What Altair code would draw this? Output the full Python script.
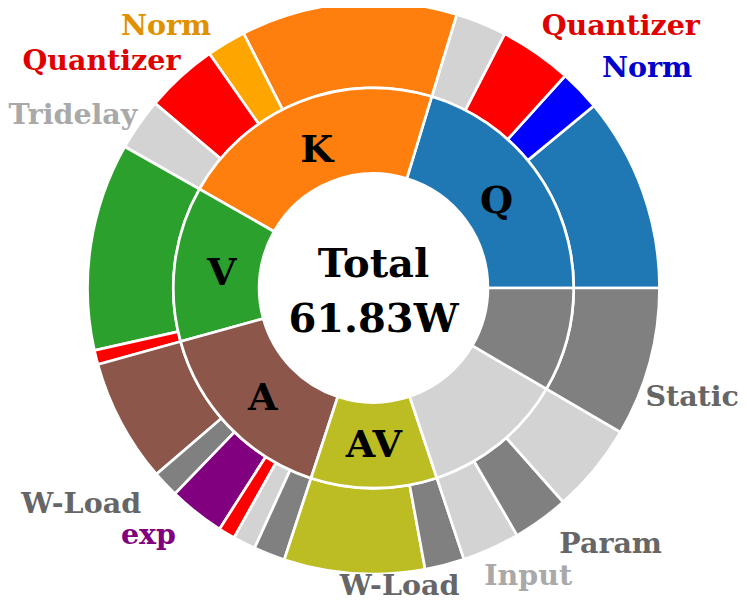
import math
import altair as alt
import pandas as pd

# ---------------- data (power in W) ----------------
TOTAL_LABEL = "61.83W"

INNER_NAMES = ["Q", "K", "V", "A", "AV", "Other", "Static"]
INNER_W = [12.55, 13.28, 7.75, 9.67, 6.29, 7.09, 5.20]
INNER_LABELS = ["Q", "K", "V", "A", "AV", "", ""]

OUTER_PARENT = ["Q", "Q", "Q", "Q",
                "K", "K", "K", "K",
                "V", "V",
                "A", "A", "A", "A", "A", "A",
                "AV", "AV",
                "Other", "Other", "Other",
                "Static"]
OUTER_PART = ["Q", "Norm-Q", "Quantizer", "Tridelay",
              "K", "Norm-K", "Quantizer", "Tridelay",
              "V", "Quantizer",
              "A", "W-Load", "exp", "Quantizer", "Input", "Param",
              "AV", "W-Load",
              "Input", "Param", "Other",
              "Static"]
OUTER_W = [6.80, 1.43, 2.54, 1.78,
           7.55, 1.37, 2.54, 1.82,
           7.25, 0.50,
           4.31, 0.93, 1.96, 0.58, 0.79, 1.10,
           4.91, 1.38,
           2.01, 1.96, 3.12,
           5.20]

# outer annotation texts
ANN_TEXT = ["Quantizer", "Norm", "Norm", "Quantizer", "Tridelay",
            "W-Load", "exp", "W-Load", "Input", "Param", "Static"]
ANN_KIND = ["Quantizer", "Norm-Q", "Norm-K", "Quantizer", "Tridelay",
            "W-Load", "exp", "W-Load", "Input", "Param", "Static"]

# ---------------- style / layout ----------------
PALETTE = {
    "Q": "#1f77b4", "K": "#ff7f0e", "V": "#2ca02c", "A": "#8c564b", "AV": "#bcbd22",
    "Other": "#d3d3d3", "Static": "#808080",
    "Norm-Q": "#0000ff", "Norm-K": "#ffa500", "Quantizer": "#ff0000",
    "Tridelay": "#d3d3d3", "W-Load": "#808080", "exp": "#800080",
    "Input": "#d3d3d3", "Param": "#808080",
}
TEXT_PALETTE = {
    "Quantizer": "#e00000", "Norm-Q": "#0000cc", "Norm-K": "#e09100",
    "Tridelay": "#a9a9a9", "Input": "#a9a9a9", "W-Load": "#666666",
    "Param": "#666666", "Static": "#666666", "exp": "#800080",
}
# annotation placement: angle (deg, counter-clockwise from 3 o'clock), radius (fraction of R)
ANN_ANGLE = [45.65, 37.65, 129.36, 141.3, 151.4, 217.6, 228.7, 274.84, 297.5, 311.8, 339.7]
ANN_RFRAC = [1.237, 1.208, 1.144, 1.219, 1.197, 1.29, 1.192, 1.077, 1.171, 1.244, 1.188]

R = 286
R_MID = 0.7 * R
R_HOLE = 0.4 * R
FONT = "DejaVu Serif"
EDGE = 2.7

total = sum(INNER_W)
theta_scale = alt.Scale(domain=[0, total], range=[math.pi / 2, math.pi / 2 - 2 * math.pi],
                        nice=False, zero=True)

inner = pd.DataFrame({"name": INNER_NAMES, "w": INNER_W, "label": INNER_LABELS})
inner["idx"] = range(len(inner))
inner["fill"] = inner["name"].map(PALETTE)

outer = pd.DataFrame({"parent": OUTER_PARENT, "part": OUTER_PART, "w": OUTER_W})
outer["idx"] = range(len(outer))
outer["fill"] = outer["part"].map(PALETTE)

ann = pd.DataFrame({"text": ANN_TEXT, "kind": ANN_KIND})
ann["pos"] = [a / 360.0 * total for a in ANN_ANGLE]
ann["r"] = [f * R for f in ANN_RFRAC]
ann["tcolor"] = ann["kind"].map(TEXT_PALETTE)

center = pd.DataFrame({"pos": [0.0]})

theta_stack = alt.Theta("w:Q", stack=True, scale=theta_scale)

inner_arc = alt.Chart(inner).mark_arc(
    innerRadius=R_HOLE, outerRadius=R_MID, stroke="white", strokeWidth=EDGE
).encode(theta=theta_stack, order=alt.Order("idx:Q"), color=alt.Color("fill:N", scale=None))

outer_arc = alt.Chart(outer).mark_arc(
    innerRadius=R_MID, outerRadius=R, stroke="white", strokeWidth=EDGE
).encode(theta=theta_stack, order=alt.Order("idx:Q"), color=alt.Color("fill:N", scale=None))

inner_text = alt.Chart(inner).mark_text(
    radius=153, dy=5, font=FONT, fontSize=38, fontWeight="bold", color="black",
    align="center", baseline="middle"
).encode(theta=theta_stack, order=alt.Order("idx:Q"), text="label:N")

ann_text = alt.Chart(ann).mark_text(
    font=FONT, fontSize=28.5, fontWeight="bold", align="center", baseline="alphabetic"
).encode(
    theta=alt.Theta("pos:Q", stack=False, scale=theta_scale),
    radius=alt.Radius("r:Q", scale=None),
    text="text:N",
    color=alt.Color("tcolor:N", scale=None),
)

total_1 = alt.Chart(center).mark_text(
    text="Total", font=FONT, fontSize=40, fontWeight="bold", color="black",
    align="center", baseline="alphabetic", dy=-11, radius=0
).encode(theta=alt.Theta("pos:Q", stack=False, scale=theta_scale))

total_2 = alt.Chart(center).mark_text(
    text=TOTAL_LABEL, font=FONT, fontSize=40, fontWeight="bold", color="black",
    align="center", baseline="alphabetic", dy=44, radius=0
).encode(theta=alt.Theta("pos:Q", stack=False, scale=theta_scale))

chart = alt.layer(outer_arc, inner_arc, inner_text, ann_text, total_1, total_2).properties(
    width=731, height=560,
    autosize=alt.AutoSizeParams(type="none"),
    padding={"left": 0, "top": 0, "right": 0, "bottom": 34},
).configure_view(strokeWidth=0)

chart.save("out.html", embed_options={"renderer": "svg", "actions": False})
